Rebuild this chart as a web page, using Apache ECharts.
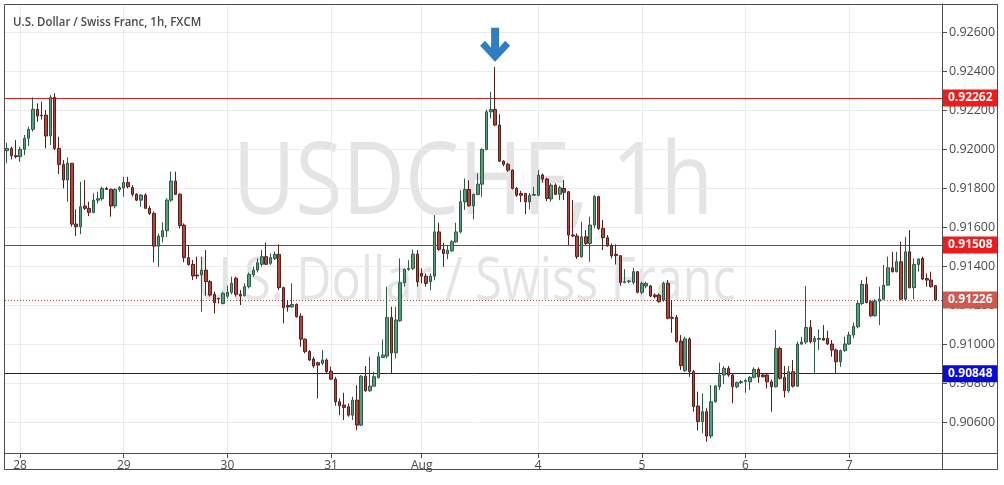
<!DOCTYPE html>
<html><head><meta charset="utf-8">
<script src="https://cdn.jsdelivr.net/npm/echarts@6/dist/echarts.min.js"></script>
<style>html,body{margin:0;padding:0;background:#fff}#c{width:1004px;height:485px}</style>
</head><body><div id="c"></div>
<script>
// ---- data (USD/CHF, 1h) ----
const opens = [
0.91991,0.92003,0.91966,0.91961,0.91998,0.92055,0.92101,0.92204,0.92174,0.92174,
0.92067,0.92265,0.92003,0.91921,0.91841,0.91927,0.91615,0.91602,0.91708,0.91696,
0.91675,0.91738,0.91745,0.91798,0.91793,0.91708,0.91793,0.91800,0.91829,0.91802,
0.91768,0.91738,0.91764,0.91696,0.91670,0.91502,0.91550,0.91581,0.91738,0.91836,
0.91768,0.91610,0.91443,0.91408,0.91354,0.91354,0.91379,0.91320,0.91255,0.91234,
0.91208,0.91245,0.91265,0.91337,0.91255,0.91248,0.91294,0.91357,0.91379,0.91409,
0.91448,0.91414,0.91439,0.91460,0.91289,0.91197,0.91191,0.91203,0.91143,0.91025,
0.90961,0.90923,0.90904,0.90901,0.90918,0.90861,0.90820,0.90704,0.90687,0.90678,
0.90635,0.90712,0.90584,0.90835,0.90760,0.90784,0.90828,0.90931,0.90938,0.91136,
0.90955,0.91119,0.91314,0.91383,0.91388,0.91461,0.91362,0.91348,0.91319,0.91348,
0.91575,0.91485,0.91464,0.91478,0.91524,0.91575,0.91729,0.91793,0.91709,0.91767,
0.91820,0.91998,0.92191,0.92203,0.92123,0.91938,0.91922,0.91892,0.91798,0.91772,
0.91772,0.91729,0.91763,0.91763,0.91867,0.91846,0.91744,0.91815,0.91768,0.91798,
0.91781,0.91559,0.91554,0.91448,0.91550,0.91516,0.91610,0.91756,0.91593,0.91545,
0.91504,0.91460,0.91453,0.91316,0.91320,0.91316,0.91371,0.91265,0.91298,0.91298,
0.91251,0.91251,0.91226,0.91311,0.91137,0.91137,0.91015,0.90863,0.91026,0.90858,
0.90682,0.90602,0.90653,0.90528,0.90704,0.90781,0.90841,0.90875,0.90841,0.90781,
0.90802,0.90808,0.90806,0.90829,0.90870,0.90841,0.90841,0.90806,0.90781,0.90977,
0.90829,0.90760,0.90858,0.90784,0.91000,0.91010,0.91085,0.91012,0.91024,0.91029,
0.91029,0.91000,0.90969,0.90909,0.90966,0.91000,0.91046,0.91088,0.91208,0.91306,
0.91217,0.91145,0.91220,0.91230,0.91302,0.91391,0.91371,0.91422,0.91230,0.91473,
0.91289,0.91408,0.91439,0.91336,0.91328,0.91299];
const closes = [
0.92003,0.91966,0.91961,0.91998,0.92055,0.92101,0.92204,0.92169,0.92171,0.92067,
0.92265,0.92003,0.91921,0.91841,0.91927,0.91615,0.91602,0.91704,0.91696,0.91675,
0.91738,0.91745,0.91798,0.91793,0.91708,0.91793,0.91802,0.91829,0.91807,0.91768,
0.91738,0.91764,0.91696,0.91670,0.91502,0.91554,0.91581,0.91738,0.91836,0.91768,
0.91607,0.91443,0.91408,0.91349,0.91349,0.91379,0.91320,0.91251,0.91212,0.91231,
0.91260,0.91266,0.91311,0.91255,0.91246,0.91294,0.91357,0.91379,0.91417,0.91448,
0.91409,0.91443,0.91460,0.91289,0.91186,0.91190,0.91203,0.91140,0.91025,0.90961,
0.90918,0.90887,0.90892,0.90918,0.90858,0.90820,0.90704,0.90683,0.90675,0.90635,
0.90712,0.90584,0.90835,0.90760,0.90784,0.90832,0.90935,0.90943,0.91136,0.90955,
0.91123,0.91314,0.91383,0.91388,0.91461,0.91319,0.91348,0.91311,0.91348,0.91575,
0.91485,0.91464,0.91481,0.91524,0.91575,0.91729,0.91793,0.91709,0.91767,0.91820,
0.91998,0.92191,0.92203,0.92123,0.91938,0.91922,0.91892,0.91798,0.91763,0.91763,
0.91729,0.91763,0.91767,0.91866,0.91846,0.91747,0.91815,0.91768,0.91802,0.91778,
0.91559,0.91554,0.91448,0.91550,0.91516,0.91610,0.91756,0.91593,0.91545,0.91504,
0.91453,0.91453,0.91316,0.91320,0.91323,0.91371,0.91265,0.91311,0.91311,0.91246,
0.91243,0.91217,0.91311,0.91132,0.91132,0.91012,0.90889,0.91026,0.90858,0.90679,
0.90602,0.90653,0.90528,0.90704,0.90785,0.90841,0.90875,0.90841,0.90781,0.90802,
0.90807,0.90813,0.90829,0.90870,0.90832,0.90832,0.90806,0.90781,0.90977,0.90824,
0.90760,0.90858,0.90784,0.91000,0.91010,0.91085,0.91012,0.91029,0.91029,0.91020,
0.91000,0.90969,0.90909,0.90966,0.91000,0.91046,0.91090,0.91208,0.91306,0.91213,
0.91145,0.91220,0.91230,0.91302,0.91391,0.91371,0.91422,0.91230,0.91473,0.91289,
0.91408,0.91436,0.91333,0.91328,0.91294,0.91226];
const highs = [
0.92033,0.92012,0.92046,0.92012,0.92072,0.92115,0.92265,0.92234,0.92243,0.92200,
0.92277,0.92286,0.92063,0.91944,0.91957,0.91927,0.91691,0.91832,0.91841,0.91730,
0.91773,0.91781,0.91807,0.91807,0.91798,0.91798,0.91810,0.91858,0.91858,0.91815,
0.91773,0.91768,0.91773,0.91709,0.91679,0.91567,0.91624,0.91747,0.91884,0.91884,
0.91773,0.91619,0.91508,0.91431,0.91448,0.91448,0.91482,0.91328,0.91268,0.91237,
0.91268,0.91300,0.91345,0.91345,0.91277,0.91311,0.91367,0.91397,0.91439,0.91482,
0.91521,0.91465,0.91474,0.91511,0.91294,0.91226,0.91311,0.91208,0.91157,0.91029,
0.90969,0.90935,0.90909,0.90969,0.90926,0.90884,0.90832,0.90721,0.90750,0.90695,
0.90729,0.90789,0.90840,0.90887,0.90935,0.90858,0.90960,0.91023,0.91294,0.91191,
0.91191,0.91439,0.91388,0.91430,0.91485,0.91482,0.91388,0.91362,0.91362,0.91661,
0.91622,0.91519,0.91507,0.91533,0.91622,0.91789,0.91849,0.91840,0.91772,0.91875,
0.92003,0.92203,0.92294,0.92422,0.92179,0.91943,0.91929,0.91895,0.91806,0.91786,
0.91775,0.91775,0.91806,0.91892,0.91875,0.91853,0.91824,0.91824,0.91812,0.91841,
0.91785,0.91738,0.91567,0.91627,0.91585,0.91653,0.91764,0.91761,0.91636,0.91559,
0.91516,0.91511,0.91456,0.91384,0.91328,0.91391,0.91374,0.91320,0.91320,0.91303,
0.91260,0.91260,0.91320,0.91328,0.91226,0.91149,0.91046,0.91038,0.91034,0.90867,
0.90756,0.90747,0.90670,0.90790,0.90790,0.90904,0.90887,0.90887,0.90850,0.90807,
0.90815,0.90822,0.90836,0.90880,0.90880,0.90849,0.90849,0.90818,0.91072,0.90986,
0.90887,0.90887,0.90918,0.91012,0.91037,0.91297,0.91123,0.91041,0.91075,0.91097,
0.91068,0.91020,0.90977,0.90972,0.91037,0.91063,0.91110,0.91225,0.91328,0.91345,
0.91225,0.91230,0.91294,0.91405,0.91448,0.91473,0.91473,0.91525,0.91550,0.91584,
0.91439,0.91439,0.91448,0.91362,0.91371,0.91302];
const lows = [
0.91927,0.91947,0.91952,0.91935,0.91969,0.92015,0.92089,0.92140,0.92152,0.92003,
0.92021,0.91995,0.91872,0.91798,0.91730,0.91602,0.91554,0.91564,0.91687,0.91656,
0.91670,0.91721,0.91735,0.91790,0.91653,0.91696,0.91781,0.91756,0.91798,0.91756,
0.91733,0.91704,0.91692,0.91662,0.91419,0.91396,0.91521,0.91550,0.91730,0.91764,
0.91593,0.91419,0.91402,0.91328,0.91333,0.91166,0.91248,0.91243,0.91157,0.91208,
0.91203,0.91234,0.91255,0.91243,0.91200,0.91243,0.91285,0.91345,0.91367,0.91397,
0.91405,0.91405,0.91431,0.91277,0.91106,0.91166,0.91186,0.91135,0.90986,0.90952,
0.90913,0.90878,0.90721,0.90892,0.90849,0.90815,0.90684,0.90635,0.90610,0.90627,
0.90610,0.90558,0.90579,0.90755,0.90755,0.90781,0.90823,0.90931,0.90926,0.90846,
0.90926,0.91114,0.91294,0.91376,0.91379,0.91294,0.91311,0.91294,0.91276,0.91327,
0.91478,0.91396,0.91435,0.91473,0.91519,0.91567,0.91687,0.91704,0.91639,0.91763,
0.91755,0.91994,0.92157,0.92117,0.91934,0.91912,0.91883,0.91793,0.91755,0.91729,
0.91666,0.91690,0.91763,0.91758,0.91829,0.91733,0.91730,0.91764,0.91738,0.91738,
0.91508,0.91550,0.91436,0.91443,0.91508,0.91422,0.91593,0.91585,0.91482,0.91499,
0.91439,0.91408,0.91299,0.91311,0.91311,0.91306,0.91260,0.91255,0.91286,0.91240,
0.91234,0.91212,0.91217,0.91127,0.91058,0.91007,0.90867,0.90858,0.90832,0.90653,
0.90556,0.90542,0.90499,0.90516,0.90699,0.90764,0.90795,0.90832,0.90696,0.90773,
0.90795,0.90750,0.90764,0.90824,0.90801,0.90829,0.90772,0.90653,0.90777,0.90818,
0.90726,0.90750,0.90777,0.90781,0.90995,0.91000,0.91003,0.90849,0.90969,0.91017,
0.90995,0.90935,0.90846,0.90883,0.90960,0.90995,0.91030,0.91080,0.91200,0.91208,
0.91140,0.91140,0.91097,0.91225,0.91299,0.91367,0.91367,0.91225,0.91220,0.91285,
0.91230,0.91371,0.91328,0.91294,0.91289,0.91220];

// horizontal levels drawn on the chart: [price, line colour, tag colour, dash]
const levelPrices = [0.92262, 0.91508, 0.90848];
const levelColors = ['#dc1e1e', '#dc1e1e', '#16168e'];
const levelTagColors = ['#ee1c1c', '#ee1c1c', '#0a0ad8'];
// x-axis day labels
const tickCats = ["07-28 00:00","07-29 00:00","07-30 00:00","07-31 00:00","08-02 21:00","08-04 00:00","08-05 00:00","08-06 00:00","08-07 00:00"];
const tickLabels = ["28","29","30","31","Aug","4","5","6","7"];
// trading sessions: [start (UTC), number of hourly bars]
const sessions = [[Date.UTC(2020,6,27,21), 96], [Date.UTC(2020,7,2,21), 120]];
const arrowBarIndex = 113;

// ---- build categories ----
const pad = n => String(n).padStart(2, '0');
const cats = [];
sessions.forEach(([t0, n]) => {
  for (let i = 0; i < n; i++) {
    const d = new Date(t0 + i * 3600e3);
    cats.push(pad(d.getUTCMonth() + 1) + '-' + pad(d.getUTCDate()) + ' ' + pad(d.getUTCHours()) + ':00');
  }
});
cats.push(' ');
const candles = cats.map((c, i) => i < opens.length ? [opens[i], closes[i], lows[i], highs[i]] : '-');
const lastClose = closes[closes.length - 1];
const isTick = (i, v) => tickCats.indexOf(v) >= 0;

const tag = (bg) => ({
  show: true, position: 'end', distance: 0,
  formatter: p => Number(p.value).toFixed(5),
  color: '#fff', fontWeight: 'bold', fontSize: 12, fontFamily: 'Open Sans',
  backgroundColor: bg, padding: [3, 5, 2, 6], width: 45, align: 'left'
});

// one helper series per level line, each with its own markLine style
const levelSeries = levelPrices.map((v, i) => ({
  type: 'line', name: 'level' + i, data: [], silent: true, z: 1,
  markLine: {
    silent: true, symbol: 'none', z: 1, precision: 5,
    lineStyle: { color: levelColors[i], width: 1, type: 'solid', opacity: 1 },
    label: tag(levelTagColors[i]),
    data: [{ yAxis: v }]
  }
}));
levelSeries.push({
  type: 'line', name: 'last', data: [], silent: true, z: 1,
  markLine: {
    silent: true, symbol: 'none', z: 1, precision: 5,
    lineStyle: { color: '#b04a40', width: 1, type: [1, 2], opacity: 1 },
    label: tag('#d0584f'),
    data: [{ yAxis: lastClose }]
  }
});

const chart = echarts.init(document.getElementById('c'), null, { renderer: 'canvas' });
chart.setOption({
  animation: false,
  backgroundColor: '#ffffff',
  grid: { left: 5, right: 62, top: 4, bottom: 32, containLabel: false },
  xAxis: {
    type: 'category', data: cats, boundaryGap: true,
    axisLine: { show: true, lineStyle: { color: '#4d4d4d', width: 1 } },
    axisTick: { show: true, interval: isTick, alignWithLabel: true, length: 5, lineStyle: { color: '#4d4d4d' } },
    axisLabel: { interval: isTick, formatter: v => tickLabels[tickCats.indexOf(v)] || '', color: '#4a4a4a', fontSize: 12, fontFamily: 'Open Sans', margin: 7 },
    splitLine: { show: true, interval: isTick, alignWithLabel: true, lineStyle: { color: '#ebebeb', width: 1 } }
  },
  yAxis: {
    type: 'value', position: 'right', scale: true,
    min: 0.90441, max: 0.92744, splitNumber: 12,
    axisLine: { show: true, lineStyle: { color: '#4d4d4d', width: 1 } },
    axisTick: { show: true, length: 5, lineStyle: { color: '#4d4d4d' } },
    axisLabel: { formatter: v => v.toFixed(5), color: '#4a4a4a', fontSize: 12.5, fontFamily: 'Open Sans', margin: 7, showMinLabel: false, showMaxLabel: false },
    splitLine: { show: true, lineStyle: { color: '#ebebeb', width: 1 } }
  },
  graphic: [
    { type: 'text', z: -5, x: 473, y: 186, scaleX: 0.86, style: { text: 'USDCHF, 1h', fontSize: 100, fontFamily: 'Open Sans', fill: '#e4e4e4', textAlign: 'center', textVerticalAlign: 'middle' } },
    { type: 'text', z: -5, x: 466, y: 283, scaleX: 0.81, style: { text: 'U.S. Dollar / Swiss Franc', fontSize: 60, fontFamily: 'Open Sans', fill: '#e4e4e4', textAlign: 'center', textVerticalAlign: 'middle' } },
    { type: 'text', z: 50, x: 13, y: 22, scaleX: 0.88, style: { text: 'U.S. Dollar / Swiss Franc, 1h, FXCM', fontSize: 13, fontWeight: 600, fontFamily: 'Open Sans', fill: '#4a4a4a', textAlign: 'left', textVerticalAlign: 'middle' } },
    { type: 'rect', z: 100, shape: { x: 4.5, y: 4.5, width: 993, height: 465 }, style: { fill: 'none', stroke: '#4d4d4d', lineWidth: 1 } },
    { type: 'line', z: 100, shape: { x1: 942.5, y1: 4.5, x2: 942.5, y2: 469.5 }, style: { stroke: '#4d4d4d', lineWidth: 1 } },
    { type: 'line', z: 100, shape: { x1: 4.5, y1: 453.5, x2: 997.5, y2: 453.5 }, style: { stroke: '#4d4d4d', lineWidth: 1 } }
  ],
  series: levelSeries.concat([{
    type: 'candlestick', name: 'USDCHF', data: candles, barWidth: 3, z: 2,
    itemStyle: { color: '#55a07c', color0: '#b3463d', borderColor: '#2c5a44', borderColor0: '#5a1e1a', borderWidth: 1 },
    markPoint: {
      silent: true, z: 6,
      data: [{
        coord: [cats[arrowBarIndex], highs[arrowBarIndex]],
        symbol: 'path://M11,0 L19,0 L19,20 L25,13 L30,18 L15,34 L0,18 L5,13 L11,20 Z',
        symbolSize: [30, 34], symbolOffset: [0, -22], symbolKeepAspect: false,
        itemStyle: { color: '#2f7dc2' }, label: { show: false }
      }]
    }
  }])
});
</script></body></html>
